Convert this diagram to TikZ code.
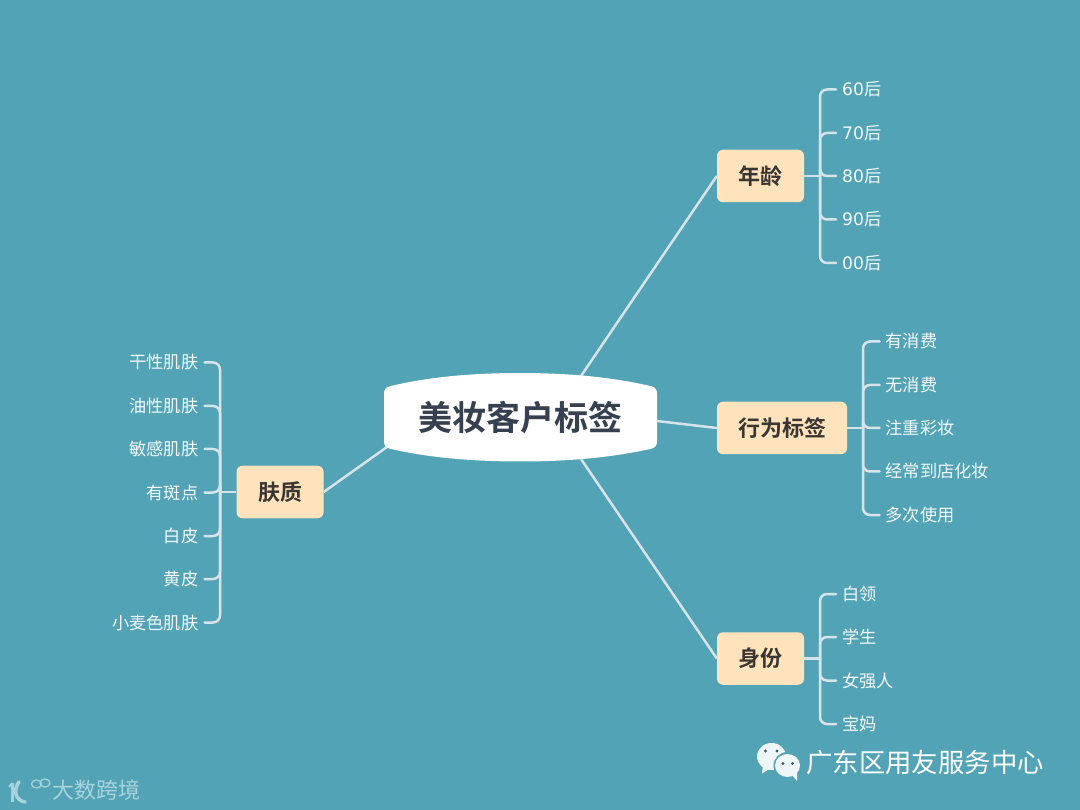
\documentclass[tikz,border=0pt]{standalone}
\usepackage{fontspec}
\setmainfont{Noto Sans CJK SC}
\newfontfamily\cjkbold[BoldFont={Noto Sans CJK SC Bold}]{Noto Sans CJK SC}
\newfontfamily\digitfont{DejaVu Sans}
\definecolor{bgc}{HTML}{52A3B5}
\definecolor{topicc}{HTML}{FFE3BC}
\definecolor{linec}{HTML}{D6E4EA}
\definecolor{labelc}{HTML}{F2F8FA}
\definecolor{rootc}{HTML}{36404F}
\definecolor{topictext}{HTML}{3A3632}
\definecolor{logoc}{HTML}{A8D3DD}
\tikzset{
  trunk/.style={draw=linec,line width=2.5pt},
  twig/.style={draw=linec,line width=2.5pt,rounded corners=7pt,shorten >=6pt,line cap=round},
  topic/.style={fill=topicc,rounded corners=6pt,inner sep=0pt,minimum height=52.5pt,
    font=\cjkbold\fontsize{22}{22}\selectfont\bfseries,text=topictext,text height=19.4pt,text depth=2.6pt},
  lbl/.style={inner sep=0pt,font=\fontsize{17.2}{17.2}\selectfont,text=labelc,text height=15.1pt,text depth=2.1pt},
  lblr/.style={lbl,anchor=west},
  lbll/.style={lbl,anchor=east},
}
\begin{document}
\begin{tikzpicture}[x=1pt,y=-1pt]
\fill[bgc] (0,0) rectangle (1080,810);
\useasboundingbox (0,0) rectangle (1080,810);

% named ends on the outline of the central shape
\coordinate (rootNE) at (581,376);
\coordinate (rootE) at (657,421);
\coordinate (rootSE) at (581,459);
\coordinate (rootSW) at (387,447);

% topics
\node[topic,minimum width=87pt] (age) at (760.5,176) {年龄};
\node[topic,minimum width=130pt] (act) at (782,428) {行为标签};
\node[topic,minimum width=87pt] (job) at (760.5,658.5) {身份};
\node[topic,minimum width=87pt] (skin) at (280,492) {肤质};

% trunks
\draw[trunk] (rootNE) -- (age.west);
\draw[trunk] (rootE) -- (act.west);
\draw[trunk] (rootSE) -- (job.west);
\draw[trunk] (rootSW) -- (skin.east);

% central shape
\fill[white] (384,394) .. controls (384,389.5) and (385.5,387.5) .. (390,386.2)
  .. controls (430,376.5) and (475,373) .. (520,373)
  .. controls (565,373) and (610,376.5) .. (651,386.2)
  .. controls (655.5,387.5) and (657,389.5) .. (657,394)
  -- (657,441)
  .. controls (657,445.5) and (655.5,447.5) .. (651,448.8)
  .. controls (610,458) and (565,461.5) .. (520,461.5)
  .. controls (475,461.5) and (430,458) .. (390,448.8)
  .. controls (385.5,447.5) and (384,445.5) .. (384,441) -- cycle;
\node[inner sep=0pt,font=\cjkbold\fontsize{34}{34}\selectfont\bfseries,text=rootc,text height=30pt,text depth=4pt] (root) at (520,417.5) {美妆客户标签};

% age
\foreach \n/\y/\d in {a1/89.5/60,a2/133/70,a3/176/80,a4/219.5/90,a5/263/00}
  \node[lblr] (\n) at (842,\y) {{\digitfont\d}后};
\coordinate (sa) at (820,176);
\draw[trunk] (age.east) -- (sa);
\foreach \n in {a1,a2,a3,a4,a5} \draw[twig] (sa) |- (\n.west);

% behaviour
\foreach \n/\y/\t in {b1/341.5/有消费,b2/385/无消费,b3/428/注重彩妆,b4/471.5/经常到店化妆,b5/515/多次使用}
  \node[lblr] (\n) at (885.5,\y) {\t};
\coordinate (sb) at (863,428);
\draw[trunk] (act.east) -- (sb);
\foreach \n in {b1,b2,b3,b4,b5} \draw[twig] (sb) |- (\n.west);

% identity
\foreach \n/\y/\t in {c1/594/白领,c2/637/学生,c3/680.5/女强人,c4/724/宝妈}
  \node[lblr] (\n) at (842,\y) {\t};
\coordinate (sc) at (820,658.5);
\draw[trunk] (job.east) -- (sc);
\foreach \n in {c1,c2,c3,c4} \draw[twig] (sc) |- (\n.west);

% skin
\foreach \n/\y/\t in {d1/362.5/干性肌肤,d2/406/油性肌肤,d3/449/敏感肌肤,d4/492.5/有斑点,d5/536/白皮,d6/579/黄皮,d7/622.5/小麦色肌肤}
  \node[lbll] (\n) at (198.5,\y) {\t};
\coordinate (sd) at (220,492);
\draw[trunk] (skin.west) -- (sd);
\foreach \n in {d1,d2,d3,d4,d5,d6,d7} \draw[twig] (sd) |- (\n.east);

% wechat mark
\fill[white!90!bgc] (771.5,756.5) ellipse (14.5 and 13.5);
\fill[white!90!bgc] (763,766) -- (762,773.5) -- (771,768) -- cycle;
\fill[bgc] (787.5,765.5) ellipse (14 and 13.5);
\fill[white!90!bgc] (787.5,765.5) ellipse (12.5 and 11.5);
\fill[white!90!bgc] (792,775) -- (797,781) -- (797,772) -- cycle;
\fill[rootc!70!bgc] (765.5,751) circle (1.7) (777,751) circle (1.7) (783,763.5) circle (1.6) (792.5,763.5) circle (1.6);
\node[inner sep=0pt,anchor=west,font=\fontsize{26.4}{26.4}\selectfont,text=white,text height=23.2pt,text depth=3.2pt] (mark) at (806,762.5) {广东区用友服务中心};

% corner logo
\draw[logoc,line width=3pt] (12,783) -- (12,802);
\draw[logoc,line width=1.8pt] (9,787) -- (12,783);
\draw[logoc,line width=3.6pt,line cap=round] (19,782) .. controls (13,790) and (15,800) .. (25,802);
\draw[logoc,line width=1.2pt] (36.5,784) ellipse (5 and 4) (45,783) ellipse (5 and 4);
\node[inner sep=0pt,anchor=west,font=\fontsize{22}{22}\selectfont,text=logoc,text height=19.4pt,text depth=2.6pt] (logo) at (52,790.5) {大数跨境};
\end{tikzpicture}
\end{document}
